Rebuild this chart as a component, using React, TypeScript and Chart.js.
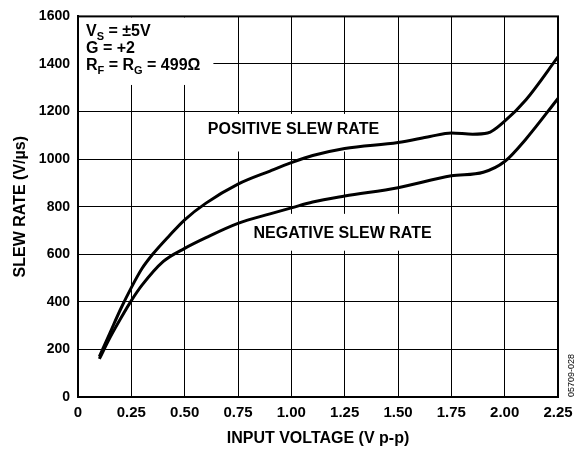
import React, { useEffect, useRef } from "react";
import { Chart, registerables } from "chart.js";

Chart.register(...registerables);

const xTicks = [0, 0.25, 0.5, 0.75, 1.0, 1.25, 1.5, 1.75, 2.0, 2.25];
const yTicks = [0, 200, 400, 600, 800, 1000, 1200, 1400, 1600];

const posX = [0.1, 0.15, 0.2, 0.25, 0.3, 0.35, 0.43, 0.5, 0.6, 0.75, 0.9, 1.0, 1.1, 1.25, 1.5, 1.65, 1.75, 1.85, 1.92, 2.0, 2.1, 2.25];
const posY = [170, 270, 370, 460, 540, 600, 680, 745, 815, 895, 950, 985, 1015, 1045, 1070, 1095, 1110, 1105, 1110, 1160, 1250, 1430];

const negX = [0.1, 0.15, 0.2, 0.25, 0.3, 0.4, 0.5, 0.6, 0.75, 0.9, 1.0, 1.1, 1.25, 1.5, 1.75, 1.9, 2.0, 2.1, 2.25];
const negY = [160, 250, 330, 405, 470, 570, 625, 670, 730, 770, 795, 820, 845, 880, 930, 945, 990, 1085, 1255];

const FONT = "'Liberation Sans', Arial, sans-serif";

const labelsPlugin = {
  id: "labels",
  beforeDatasetsDraw(chart: any) {
    const { ctx, chartArea, scales } = chart;
    const xs = scales.x;
    const ys = scales.y;
    ctx.save();
    ctx.fillStyle = "#fff";
    // conditions box
    ctx.fillRect(chartArea.left + 1, chartArea.top + 1, xs.getPixelForValue(0.63) - chartArea.left, ys.getPixelForValue(1316) - chartArea.top);
    // positive label box
    const pTop = ys.getPixelForValue(1190);
    const pBot = ys.getPixelForValue(1032);
    ctx.fillRect(xs.getPixelForValue(0.6), pTop, xs.getPixelForValue(1.43) - xs.getPixelForValue(0.6), pBot - pTop);
    // negative label box
    const nTop = ys.getPixelForValue(770);
    const nBot = ys.getPixelForValue(615);
    ctx.fillRect(xs.getPixelForValue(0.8), nTop, xs.getPixelForValue(1.68) - xs.getPixelForValue(0.8), nBot - nTop);

    ctx.fillStyle = "#000";
    ctx.textBaseline = "alphabetic";
    ctx.textAlign = "left";
    const big = "bold 16px " + FONT;
    const sub = "bold 11px " + FONT;
    const drawRuns = (runs: [string, boolean][], x: number, y: number) => {
      let cx = x;
      for (const [t, isSub] of runs) {
        ctx.font = isSub ? sub : big;
        ctx.fillText(t, cx, isSub ? y + 4 : y);
        cx += ctx.measureText(t).width;
      }
    };
    const lx = chartArea.left + 8;
    drawRuns([["V", false], ["S", true], [" = ±5V", false]], lx, chartArea.top + 20);
    drawRuns([["G = +2", false]], lx, chartArea.top + 37);
    drawRuns([["R", false], ["F", true], [" = R", false], ["G", true], [" = 499Ω", false]], lx, chartArea.top + 54);

    ctx.font = "bold 16px " + FONT;
    ctx.textBaseline = "middle";
    ctx.textAlign = "center";
    ctx.fillText("POSITIVE SLEW RATE", xs.getPixelForValue(1.01), ys.getPixelForValue(1125));
    ctx.fillText("NEGATIVE SLEW RATE", xs.getPixelForValue(1.24), ys.getPixelForValue(686));
    ctx.restore();
  },
  afterDraw(chart: any) {
    const { ctx, chartArea } = chart;
    ctx.save();
    ctx.strokeStyle = "#000";
    ctx.lineWidth = 2;
    ctx.strokeRect(chartArea.left, chartArea.top, chartArea.right - chartArea.left, chartArea.bottom - chartArea.top);
    ctx.translate(chartArea.right + 14, chartArea.bottom);
    ctx.rotate(-Math.PI / 2);
    ctx.font = "9px " + FONT;
    ctx.fillStyle = "#000";
    ctx.textAlign = "left";
    ctx.textBaseline = "middle";
    ctx.fillText("05709-028", 0, 0);
    ctx.restore();
  },
};

export default function App() {
  const ref = useRef<HTMLCanvasElement | null>(null);
  useEffect(() => {
    document.body.style.margin = "0";
    const canvas = ref.current!;
    const chart = new Chart(canvas, {
      type: "line",
      data: {
        datasets: [
          {
            label: "Positive",
            data: posX.map((x, i) => ({ x, y: posY[i] })),
            borderColor: "#000",
            borderWidth: 3,
            pointRadius: 0,
            cubicInterpolationMode: "monotone",
            fill: false,
          },
          {
            label: "Negative",
            data: negX.map((x, i) => ({ x, y: negY[i] })),
            borderColor: "#000",
            borderWidth: 3,
            pointRadius: 0,
            cubicInterpolationMode: "monotone",
            fill: false,
          },
        ],
      },
      options: {
        animation: false,
        responsive: false,
        maintainAspectRatio: false,
        devicePixelRatio: 1,
        layout: { padding: { top: 14, right: 28, left: 0, bottom: 0 } },
        plugins: { legend: { display: false }, tooltip: { enabled: false } },
        scales: {
          x: {
            type: "linear",
            min: 0,
            max: 2.25,
            afterBuildTicks: (s: any) => {
              s.ticks = xTicks.map((v) => ({ value: v }));
            },
            afterFit: (s: any) => {
              s.height = 56;
            },
            ticks: {
              color: "#000",
              padding: 7,
              font: { family: FONT, size: 15, weight: "bold" },
              maxRotation: 0,
              autoSkip: false,
              callback: (v: any) => (v === 0 ? "0" : Number(v).toFixed(2)),
            },
            grid: { color: "#000", lineWidth: 1, drawTicks: false },
            border: { color: "#000", width: 2 },
            title: {
              display: true,
              text: "INPUT VOLTAGE (V p-p)",
              color: "#000",
              font: { family: FONT, size: 16, weight: "bold" },
              padding: { top: 0, bottom: 5 },
            },
          },
          y: {
            type: "linear",
            min: 0,
            max: 1600,
            afterBuildTicks: (s: any) => {
              s.ticks = yTicks.map((v) => ({ value: v }));
            },
            afterFit: (s: any) => {
              s.width = 78;
            },
            ticks: {
              color: "#000",
              padding: 8,
              font: { family: FONT, size: 14, weight: "bold" },
              autoSkip: false,
              callback: (v: any) => String(v),
            },
            grid: { color: "#000", lineWidth: 1, drawTicks: false },
            border: { color: "#000", width: 2 },
            title: {
              display: true,
              text: "SLEW RATE (V/µs)",
              color: "#000",
              font: { family: FONT, size: 16, weight: "bold" },
              padding: { top: 11, bottom: 0 },
            },
          },
        },
      },
      plugins: [labelsPlugin],
    });
    return () => chart.destroy();
  }, []);
  return (
    <div style={{ position: "absolute", left: 0, top: 0, width: 586, height: 453, background: "#fff" }}>
      <canvas ref={ref} width={586} height={453} style={{ width: 586, height: 453 }} />
    </div>
  );
}
